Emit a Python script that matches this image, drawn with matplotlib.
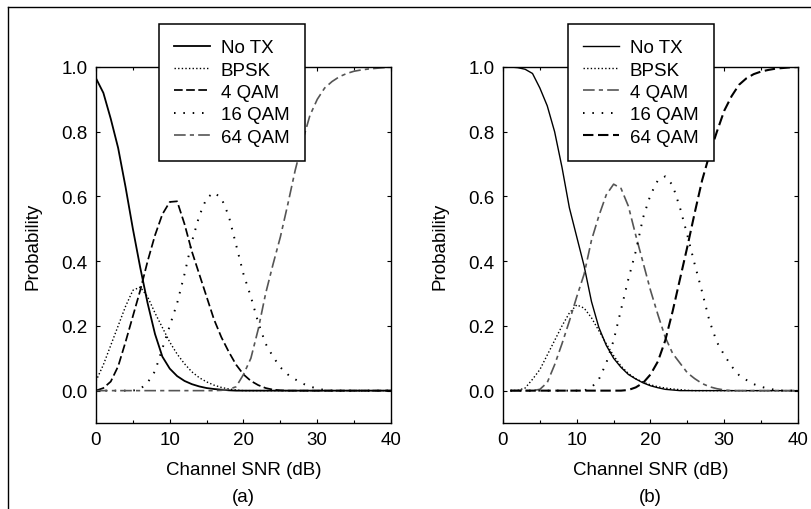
import matplotlib
matplotlib.use("Agg")
import matplotlib.pyplot as plt
from matplotlib.lines import Line2D
from matplotlib.ticker import MultipleLocator

plt.rcParams["font.family"] = ["Liberation Sans", "DejaVu Sans"]
plt.rcParams["font.size"] = 13.5

MODES = ["No TX", "BPSK", "4 QAM", "16 QAM", "64 QAM"]

# (a) — SNR grid 0..40 dB
snr_a = list(range(0, 41))
no_tx_a = [0.965, 0.92, 0.84, 0.75, 0.63, 0.50, 0.38, 0.27, 0.175, 0.105,
           0.068, 0.045, 0.03, 0.02, 0.013, 0.008, 0.005, 0.003, 0.001, 0.0,
           0.0, 0.0, 0.0, 0.0, 0.0, 0.0, 0.0, 0.0, 0.0, 0.0,
           0.0, 0.0, 0.0, 0.0, 0.0, 0.0, 0.0, 0.0, 0.0, 0.0, 0.0]
bpsk_a = [0.03, 0.08, 0.14, 0.20, 0.26, 0.31, 0.32, 0.29, 0.24, 0.195,
          0.15, 0.113, 0.083, 0.058, 0.04, 0.027, 0.017, 0.01, 0.005, 0.002,
          0.0, 0.0, 0.0, 0.0, 0.0, 0.0, 0.0, 0.0, 0.0, 0.0,
          0.0, 0.0, 0.0, 0.0, 0.0, 0.0, 0.0, 0.0, 0.0, 0.0, 0.0]
qam4_a = [0.0, 0.008, 0.028, 0.075, 0.15, 0.23, 0.31, 0.40, 0.48, 0.545,
          0.583, 0.585, 0.515, 0.43, 0.36, 0.29, 0.22, 0.165, 0.12, 0.08,
          0.05, 0.03, 0.017, 0.008, 0.003, 0.001, 0.0, 0.0, 0.0, 0.0,
          0.0, 0.0, 0.0, 0.0, 0.0, 0.0, 0.0, 0.0, 0.0, 0.0, 0.0]
qam16_a = [0.0, 0.0, 0.0, 0.0, 0.0, 0.0, 0.005, 0.025, 0.06, 0.13,
           0.2, 0.27, 0.36, 0.46, 0.54, 0.595, 0.612, 0.595, 0.54, 0.45,
           0.36, 0.29, 0.21, 0.145, 0.105, 0.072, 0.05, 0.035, 0.022, 0.013,
           0.006, 0.002, 0.0, 0.0, 0.0, 0.0, 0.0, 0.0, 0.0, 0.0, 0.0]
qam64_a = [0.0, 0.0, 0.0, 0.0, 0.0, 0.0, 0.0, 0.0, 0.0, 0.0,
           0.0, 0.0, 0.0, 0.0, 0.0, 0.0, 0.0, 0.001, 0.004, 0.012,
           0.05, 0.1, 0.19, 0.3, 0.39, 0.475, 0.575, 0.68, 0.77, 0.85,
           0.9, 0.935, 0.955, 0.97, 0.98, 0.987, 0.991, 0.994, 0.996, 0.998, 1.0]

# (b) — SNR grid 1..40 dB
snr_b = list(range(1, 41))
no_tx_b = [1.0, 0.998, 0.993, 0.98, 0.935, 0.88, 0.80, 0.69, 0.565, 0.475,
           0.385, 0.275, 0.195, 0.14, 0.10, 0.072, 0.05, 0.036, 0.024, 0.015,
           0.009, 0.004, 0.002, 0.0, 0.0, 0.0, 0.0, 0.0, 0.0, 0.0,
           0.0, 0.0, 0.0, 0.0, 0.0, 0.0, 0.0, 0.0, 0.0, 0.0]
bpsk_b = [0.0, 0.001, 0.008, 0.035, 0.065, 0.11, 0.155, 0.20, 0.24, 0.265,
          0.255, 0.225, 0.185, 0.145, 0.108, 0.076, 0.053, 0.037, 0.026, 0.018,
          0.012, 0.008, 0.005, 0.003, 0.001, 0.0, 0.0, 0.0, 0.0, 0.0,
          0.0, 0.0, 0.0, 0.0, 0.0, 0.0, 0.0, 0.0, 0.0, 0.0]
qam4_b = [0.0, 0.0, 0.0, 0.0, 0.004, 0.025, 0.08, 0.145, 0.215, 0.29,
          0.36, 0.465, 0.54, 0.605, 0.638, 0.625, 0.57, 0.48, 0.395, 0.31,
          0.235, 0.165, 0.115, 0.085, 0.055, 0.037, 0.022, 0.012, 0.006, 0.002,
          0.0, 0.0, 0.0, 0.0, 0.0, 0.0, 0.0, 0.0, 0.0, 0.0]
qam16_b = [0.0, 0.0, 0.0, 0.0, 0.0, 0.0, 0.0, 0.0, 0.0, 0.0,
           0.0, 0.01, 0.035, 0.085, 0.155, 0.25, 0.345, 0.43, 0.535, 0.605,
           0.65, 0.662, 0.635, 0.565, 0.48, 0.39, 0.305, 0.215, 0.15, 0.11,
           0.075, 0.048, 0.033, 0.02, 0.012, 0.006, 0.002, 0.0, 0.0, 0.0]
qam64_b = [0.0, 0.0, 0.0, 0.0, 0.0, 0.0, 0.0, 0.0, 0.0, 0.0,
           0.0, 0.0, 0.0, 0.0, 0.0, 0.0, 0.002, 0.01, 0.024, 0.05,
           0.09, 0.155, 0.245, 0.345, 0.445, 0.55, 0.65, 0.73, 0.8, 0.865,
           0.91, 0.945, 0.965, 0.978, 0.986, 0.991, 0.995, 0.997, 0.999, 1.0]

GRAY = "#555555"
STYLES_A = [
    dict(color="black", lw=1.3, ls="-"),
    dict(color="black", lw=1.0, ls=(0, (1, 1.6))),
    dict(color="black", lw=1.25, ls=(0, (5, 2))),
    dict(color="black", lw=1.4, ls=(0, (0.8, 4.0))),
    dict(color=GRAY, lw=1.2, ls=(0, (7, 2.5, 2.5, 2.5))),
]
STYLES_B = [
    dict(color="black", lw=1.0, ls="-"),
    dict(color="black", lw=1.0, ls=(0, (1, 1.6))),
    dict(color=GRAY, lw=1.2, ls=(0, (7, 2.5, 2.5, 2.5))),
    dict(color="black", lw=1.4, ls=(0, (0.8, 4.0))),
    dict(color="black", lw=1.5, ls=(0, (5, 2.2))),
]


def draw_panel(fig, ax, snr, series, styles, tag, legend_x):
    for name, vals, st in zip(MODES, series, styles):
        ax.plot(snr, vals, label=name, dash_capstyle="butt", **st)
    ax.set_xlim(0, 40)
    ax.set_ylim(-0.1, 1.0)
    ax.xaxis.set_major_locator(MultipleLocator(10))
    ax.xaxis.set_minor_locator(MultipleLocator(5))
    ax.set_yticks([0.0, 0.2, 0.4, 0.6, 0.8, 1.0])
    ax.set_yticklabels(["0.0", "0.2", "0.4", "0.6", "0.8", "1.0"])
    ax.tick_params(which="both", direction="in", top=True, right=True,
                   length=3, width=0.8, pad=6)
    ax.tick_params(which="minor", length=2)
    for sp in ax.spines.values():
        sp.set_linewidth(1.0)
    ax.set_xlabel("Channel SNR (dB)", labelpad=9)
    ax.set_ylabel("Probability", labelpad=14)
    pos = ax.get_position()
    fig.text((pos.x0 + pos.x1) / 2, 12 / 510, tag, ha="center", va="center")
    leg = ax.legend(loc="upper left", bbox_to_anchor=(legend_x, 1 - 25 / 510),
                    bbox_transform=fig.transFigure, frameon=True,
                    fancybox=False, handlelength=1.9, handletextpad=0.6,
                    labelspacing=0.28, borderpad=0.8, borderaxespad=0)
    leg.get_frame().set_edgecolor("black")
    leg.get_frame().set_linewidth(1.1)
    leg.get_frame().set_alpha(1.0)


def main() -> None:
    fig = plt.figure(figsize=(8.12, 5.10), dpi=100)
    ax_a = fig.add_axes([96 / 812, 86 / 510, 295 / 812, 356 / 510])
    ax_b = fig.add_axes([503 / 812, 86 / 510, 295 / 812, 356 / 510])

    draw_panel(fig, ax_a, snr_a, [no_tx_a, bpsk_a, qam4_a, qam16_a, qam64_a],
               STYLES_A, "(a)", 159 / 812)
    draw_panel(fig, ax_b, snr_b, [no_tx_b, bpsk_b, qam4_b, qam16_b, qam64_b],
               STYLES_B, "(b)", 568 / 812)

    # page frame: left and top rules
    fig.add_artist(Line2D([8 / 812, 8 / 812], [0, 1 - 8 / 510],
                          transform=fig.transFigure, color="black", lw=1.0))
    fig.add_artist(Line2D([8 / 812, 1], [1 - 8 / 510, 1 - 8 / 510],
                          transform=fig.transFigure, color="black", lw=1.0))

    fig.savefig("out.png", dpi=100)
    plt.close(fig)


if __name__ == "__main__":
    main()
